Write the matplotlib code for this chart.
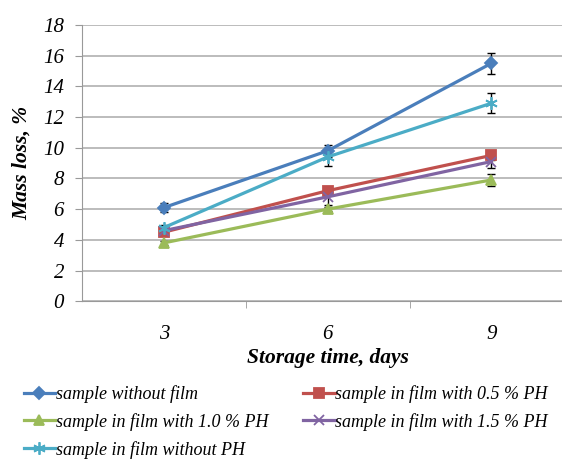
import numpy as np
import matplotlib.pyplot as plt

plt.rcParams['font.family'] = ['Liberation Serif', 'DejaVu Serif']

# data
days = ['3', '6', '9']
without_film = [6.1, 9.8, 15.5]
film_05 = [4.5, 7.2, 9.5]
film_10 = [3.8, 6.0, 7.9]
film_15 = [4.6, 6.8, 9.1]
film_no_ph = [4.8, 9.4, 12.9]

err_without_film = [0.3, 0.4, 0.7]
err_05 = [0.2, 0.2, 0.3]
err_10 = [0.15, 0.15, 0.4]
err_15 = [0.2, 0.5, 0.4]
err_no_ph = [0.15, 0.6, 0.65]

labels = ['sample without film', 'sample in film with 0.5 % PH',
          'sample in film with 1.0 % PH', 'sample in film with 1.5 % PH',
          'sample in film without PH']

fig = plt.figure(figsize=(5.62, 4.62), dpi=100)
ax = fig.add_axes([0.146, 0.348, 0.874, 0.598])

x = np.arange(len(days))
series = [
    (without_film, err_without_film, '#4a7ebb', 'D', 6),
    (film_05, err_05, '#c0504d', 's', 7),
    (film_10, err_10, '#9bbb59', '^', 7),
    (film_15, err_15, '#8064a2', 'x', 7),
    (film_no_ph, err_no_ph, '#4bacc6', (6, 2, 0), 9),
]

handles = []
for (vals, err, col, mk, ms), lab in zip(series, labels):
    ax.errorbar(x, vals, yerr=err, fmt='none', ecolor='black', elinewidth=1,
                capsize=3, capthick=1, zorder=2)
    h, = ax.plot(x, vals, color=col, lw=2.3, marker=mk, ms=ms,
                 mec=col, mew=1.3, label=lab, zorder=3)
    handles.append(h)

ax.set_xlim(-0.5, 2.5)
ax.set_ylim(0, 18)
ax.set_yticks(np.arange(0, 19, 2))
ax.set_xticks(x)
ax.set_xticklabels(days)
ax.set_xticks([0.5, 1.5], minor=True)
ax.tick_params(axis='x', which='major', length=0, labelsize=15, pad=17)
ax.tick_params(axis='x', which='minor', length=5, color='#999999')
ax.tick_params(axis='y', length=5, color='#999999', labelsize=15, pad=8)
for lbl in ax.get_xticklabels() + ax.get_yticklabels():
    lbl.set_style('italic')
ax.grid(axis='y', color='#b0b0b0', lw=1.2)
ax.set_axisbelow(True)
for s in ['top', 'right']:
    ax.spines[s].set_visible(False)
for s in ['left', 'bottom']:
    ax.spines[s].set_color('#999999')

ax.set_ylabel('Mass loss, %', fontsize=15.5, fontweight='bold', style='italic', labelpad=8)
ax.set_xlabel('Storage time, days', fontsize=15.5, fontweight='bold', style='italic', labelpad=3)

# Excel fills legend row by row; matplotlib fills column by column
order = [0, 2, 4, 1, 3]
fig.legend(handles=[handles[i] for i in order], loc='upper left',
           bbox_to_anchor=(0.026, 0.186), ncol=2, borderpad=0,
           frameon=False, prop={'style': 'italic', 'size': 13}, handlelength=1.75,
           handletextpad=0.05, columnspacing=1.9, labelspacing=0.55,
           bbox_transform=fig.transFigure)

fig.savefig('out.png', dpi=100)
